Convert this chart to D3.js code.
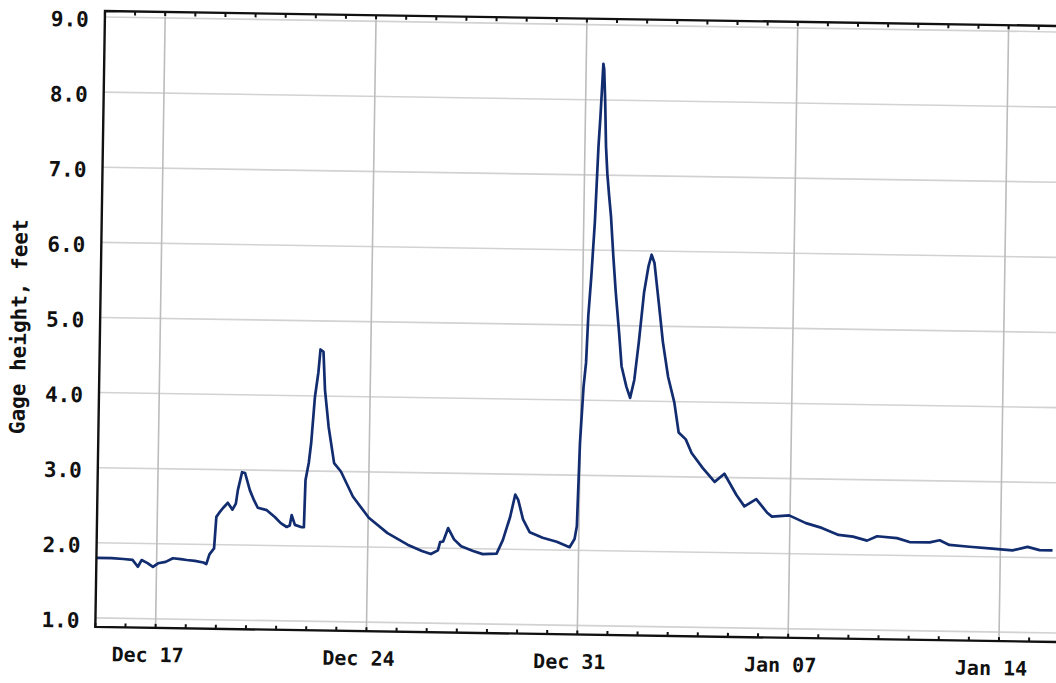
<!DOCTYPE html>
<html>
<head>
<meta charset="utf-8">
<script src="https://cdn.jsdelivr.net/npm/d3@7"></script>
<style>
  body { margin: 0; background: #fff; }
  svg { display: block; }
</style>
</head>
<body>
<div id="plot"></div>
<script>
// gage readings: days after Dec 15 00:00, gage height in feet
var startDate = new Date(2015, 11, 15);
var endDate   = new Date(2016, 0, 16);
var dayOffsets = [0.0, 0.5, 0.9, 1.2, 1.38, 1.5, 1.7, 1.88, 2.05, 2.3, 2.54, 2.8, 3.0, 3.27, 3.55, 3.65,
    3.75, 3.9, 3.96, 4.06, 4.2, 4.33, 4.49, 4.6, 4.66, 4.79, 4.89, 5.06, 5.2, 5.33, 5.63, 5.9,
    6.1, 6.3, 6.4, 6.46, 6.57, 6.8, 6.87, 6.9, 7.0, 7.07, 7.17, 7.27, 7.33, 7.43, 7.5, 7.64,
    7.84, 8.07, 8.48, 9.02, 9.65, 10.32, 10.8, 11.1, 11.33, 11.4, 11.5, 11.66, 11.86, 12.1,
    12.5, 12.82, 13.28, 13.48, 13.71, 13.87, 13.97, 14.14, 14.37, 14.8, 15.27, 15.7, 15.86,
    15.93, 15.99, 16.08, 16.15, 16.2, 16.28, 16.37, 16.45, 16.5, 16.57, 16.6, 16.65, 16.7,
    16.76, 16.83, 16.9, 17.0, 17.1, 17.23, 17.33, 17.5, 17.63, 17.76, 17.89, 18.04, 18.17,
    18.27, 18.37, 18.53, 18.69, 18.88, 19.1, 19.26, 19.5, 19.7, 20.08, 20.48, 20.8, 21.21,
    21.48, 21.87, 22.24, 22.4, 22.97, 23.53, 24.06, 24.62, 25.1, 25.57, 25.9, 26.56, 26.98,
    27.65, 27.98, 28.3, 28.97, 29.73, 30.4, 30.9, 31.3, 31.73];
var gageFeet = [1.80, 1.80, 1.79, 1.78, 1.69, 1.78, 1.74, 1.69, 1.74, 1.76, 1.81, 1.80, 1.79, 1.78, 1.76, 1.74,
    1.87, 1.95, 2.37, 2.43, 2.50, 2.56, 2.47, 2.55, 2.73, 2.97, 2.96, 2.73, 2.60, 2.50, 2.47, 2.38,
    2.30, 2.25, 2.27, 2.41, 2.28, 2.25, 2.25, 2.88, 3.11, 3.38, 3.99, 4.31, 4.62, 4.59, 4.08, 3.59,
    3.11, 3.00, 2.67, 2.39, 2.19, 2.04, 1.96, 1.92, 1.97, 2.08, 2.09, 2.27, 2.12, 2.03,
    1.97, 1.93, 1.94, 2.12, 2.43, 2.73, 2.66, 2.40, 2.23, 2.16, 2.11, 2.04, 2.15,
    2.32, 3.43, 4.18, 4.50, 5.12, 5.65, 6.38, 7.38, 7.78, 8.48, 8.41, 7.97, 7.38,
    7.01, 6.72, 6.46, 5.92, 5.44, 4.91, 4.46, 4.19, 4.04, 4.28, 4.78, 5.45, 5.79,
    5.95, 5.84, 5.32, 4.79, 4.33, 3.99, 3.59, 3.50, 3.32, 3.12, 2.94, 3.05, 2.77,
    2.62, 2.72, 2.54, 2.49, 2.51, 2.41, 2.35, 2.26, 2.24, 2.19, 2.25, 2.23, 2.18,
    2.18, 2.21, 2.15, 2.13, 2.11, 2.09, 2.14, 2.10, 2.10];
var xTickDates = [new Date(2015, 11, 17), new Date(2015, 11, 24), new Date(2015, 11, 31),
    new Date(2016, 0, 7), new Date(2016, 0, 14)];
var yTicks = [1, 2, 3, 4, 5, 6, 7, 8, 9];
var yDomain = {min: 0.88, max: 9.08};

var outerWidth = 1056, outerHeight = 683;
var plot = {left: 105, top: 11, width: 964, height: 616};

var svg = d3.select("#plot").append("svg")
    .attr("width", outerWidth)
    .attr("height", outerHeight);

// the scanned page sits slightly tilted
var page = svg.append("g")
    .attr("transform", "rotate(0.9," + plot.left + "," + plot.top + ")");

var inner = page.append("g")
    .attr("transform", "translate(" + plot.left + "," + plot.top + ")");

var Xscale = d3.scaleTime()
    .domain([startDate, endDate])
    .range([0, plot.width]);

var Yscale = d3.scaleLinear()
    .domain([yDomain.min, yDomain.max])
    .range([plot.height, 0]);

// horizontal grid
inner.selectAll(".hgrid")
    .data(yTicks)
    .enter().append("line")
    .attr("x1", 0).attr("x2", plot.width)
    .attr("y1", function(d) { return Yscale(d); })
    .attr("y2", function(d) { return Yscale(d); })
    .attr("stroke", "#d2d2d2")
    .attr("stroke-width", 1.6);

// vertical grid, weekly
inner.selectAll(".vgrid")
    .data(xTickDates)
    .enter().append("line")
    .attr("x1", function(d) { return Xscale(d); })
    .attr("x2", function(d) { return Xscale(d); })
    .attr("y1", 0).attr("y2", plot.height)
    .attr("stroke", "#bcbcbc")
    .attr("stroke-width", 1.6);

// daily minor ticks on top and bottom edges
var days = d3.timeDay.range(startDate, endDate);
inner.selectAll(".tickb")
    .data(days)
    .enter().append("line")
    .attr("x1", function(d) { return Xscale(d); })
    .attr("x2", function(d) { return Xscale(d); })
    .attr("y1", plot.height).attr("y2", plot.height - 4)
    .attr("stroke", "#111")
    .attr("stroke-width", 2);
inner.selectAll(".tickt")
    .data(days)
    .enter().append("line")
    .attr("x1", function(d) { return Xscale(d); })
    .attr("x2", function(d) { return Xscale(d); })
    .attr("y1", 0).attr("y2", 4)
    .attr("stroke", "#111")
    .attr("stroke-width", 2);

// data line
var readings = dayOffsets.map(function(d, i) {
    return {t: new Date(startDate.getTime() + d * 864e5), v: gageFeet[i]};
});
var valueline = d3.line()
    .x(function(d) { return Xscale(d.t); })
    .y(function(d) { return Yscale(d.v); });

inner.append("path")
    .datum(readings)
    .attr("fill", "none")
    .attr("stroke", "#122c70")
    .attr("stroke-width", 2.7)
    .attr("stroke-linejoin", "round")
    .attr("d", valueline);

// frame: left, top, bottom
inner.append("path")
    .attr("d", "M" + plot.width + ",0H0V" + plot.height + "H" + plot.width)
    .attr("fill", "none")
    .attr("stroke", "#111")
    .attr("stroke-width", 2.4);

// Y axis labels
var axisY = inner.append("g")
    .call(d3.axisLeft(Yscale).tickValues(yTicks).tickFormat(d3.format(".1f")).tickSize(0).tickPadding(16));
axisY.select(".domain").remove();
axisY.selectAll("text")
    .attr("dy", "0.45em")
    .style("font-family", "'DejaVu Sans Mono', monospace")
    .style("font-weight", "bold")
    .style("font-size", "21px")
    .attr("fill", "#111");

// X axis labels
var axisX = inner.append("g")
    .attr("transform", "translate(0," + plot.height + ")")
    .call(d3.axisBottom(Xscale).tickValues(xTickDates).tickFormat(d3.timeFormat("%b %d")).tickSize(0).tickPadding(20));
axisX.select(".domain").remove();
axisX.selectAll("text")
    .attr("x", -8)
    .style("font-family", "'DejaVu Sans Mono', monospace")
    .style("font-weight", "bold")
    .style("font-size", "20px")
    .attr("fill", "#111");

// Y axis title
page.append("text")
    .attr("transform", "translate(" + 31 + "," + 328 + ") rotate(-90)")
    .style("text-anchor", "middle")
    .style("font-family", "'DejaVu Sans Mono', monospace")
    .style("font-weight", "bold")
    .style("font-size", "21px")
    .attr("fill", "#111")
    .text("Gage height, feet");
</script>
</body>
</html>
